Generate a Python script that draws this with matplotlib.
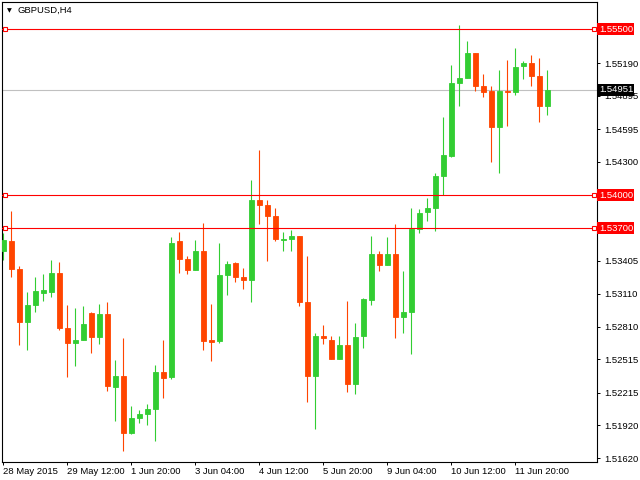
import matplotlib
matplotlib.use('Agg')
import matplotlib.pyplot as plt
import matplotlib.transforms as mtransforms

# GBPUSD H4 candles (open, high, low, close)
opens = [1.53491, 1.53587, 1.53334, 1.52849, 1.53003, 1.53118, 1.53127, 1.53298, 1.52801, 1.52660,
         1.52693, 1.52937, 1.52714, 1.52928, 1.52262, 1.52368, 1.51846, 1.51982, 1.52018, 1.52063,
         1.52404, 1.52352, 1.53587, 1.53425, 1.53319, 1.53497, 1.52687, 1.52678, 1.53280, 1.53389,
         1.53262, 1.53229, 1.53958, 1.53913, 1.53813, 1.53593, 1.53599, 1.53633, 1.53036, 1.52362,
         1.52729, 1.52693, 1.52515, 1.52648, 1.52289, 1.52723, 1.53048, 1.53470, 1.53365, 1.53470,
         1.52895, 1.52940, 1.53690, 1.53843, 1.53880, 1.54169, 1.54355, 1.55009, 1.55054, 1.55286,
         1.54988, 1.54943, 1.54611, 1.54943, 1.54928, 1.55163, 1.55196, 1.55078, 1.54801]
highs = [1.53657, 1.53852, 1.53355, 1.53127, 1.53262, 1.53289, 1.53416, 1.53398, 1.53009, 1.52982,
         1.53000, 1.52946, 1.53018, 1.53036, 1.52506, 1.52711, 1.52090, 1.52060, 1.52115, 1.52461,
         1.52687, 1.53624, 1.53669, 1.53452, 1.53596, 1.53750, 1.53018, 1.53569, 1.53407, 1.53398,
         1.53343, 1.54139, 1.54410, 1.53958, 1.53886, 1.53669, 1.53687, 1.53633, 1.53446, 1.52750,
         1.52828, 1.52729, 1.52729, 1.53045, 1.52840, 1.53072, 1.53633, 1.53497, 1.53624, 1.53741,
         1.53316, 1.53886, 1.53877, 1.53976, 1.54196, 1.54708, 1.55178, 1.55539, 1.55395, 1.55286,
         1.55096, 1.54982, 1.55127, 1.55223, 1.55331, 1.55214, 1.55268, 1.55241, 1.55133]
lows = [1.53410, 1.53256, 1.52642, 1.52596, 1.52940, 1.53045, 1.53075, 1.52777, 1.52352, 1.52452,
        1.52687, 1.52569, 1.52651, 1.52226, 1.51955, 1.51684, 1.51837, 1.51937, 1.51919, 1.51774,
        1.52163, 1.52334, 1.53292, 1.53283, 1.53319, 1.52596, 1.52497, 1.52660, 1.53093, 1.53211,
        1.53148, 1.53030, 1.53735, 1.53401, 1.53581, 1.53491, 1.53491, 1.52994, 1.52127, 1.51883,
        1.52651, 1.52515, 1.52515, 1.52217, 1.52199, 1.52615, 1.53003, 1.53310, 1.53365, 1.52705,
        1.52750, 1.52560, 1.53654, 1.53762, 1.53672, 1.54003, 1.54346, 1.54801, 1.55054, 1.54937,
        1.54883, 1.54295, 1.54196, 1.54621, 1.54901, 1.55045, 1.54982, 1.54657, 1.54720]
closes = [1.53590, 1.53331, 1.52849, 1.53009, 1.53136, 1.53145, 1.53298, 1.52795, 1.52660, 1.52693,
          1.52837, 1.52714, 1.52928, 1.52271, 1.52368, 1.51846, 1.51988, 1.52024, 1.52069, 1.52404,
          1.52343, 1.53569, 1.53419, 1.53319, 1.53497, 1.52678, 1.52675, 1.53280, 1.53380, 1.53256,
          1.53229, 1.53958, 1.53907, 1.53807, 1.53599, 1.53605, 1.53633, 1.53030, 1.52362, 1.52729,
          1.52705, 1.52515, 1.52648, 1.52289, 1.52720, 1.53063, 1.53470, 1.53365, 1.53470, 1.52895,
          1.52946, 1.53690, 1.53840, 1.53886, 1.54175, 1.54365, 1.55015, 1.55060, 1.55286, 1.54982,
          1.54928, 1.54611, 1.54943, 1.54928, 1.55160, 1.55196, 1.55072, 1.54801, 1.54951]

time_labels = ['28 May 2015', '29 May 12:00', '1 Jun 20:00', '3 Jun 04:00', '4 Jun 12:00',
               '5 Jun 20:00', '9 Jun 04:00', '10 Jun 12:00', '11 Jun 20:00']
price_ticks = [1.51620, 1.51920, 1.52215, 1.52515, 1.52810, 1.53110, 1.53405,
               1.53700, 1.54000, 1.54300, 1.54595, 1.54895, 1.55190, 1.55500]
levels = [1.55500, 1.54000, 1.53700]
bid = 1.54951

bull = '#32CD32'
bear = '#FF4500'
font = 'Liberation Sans'

fig = plt.figure(figsize=(6.4, 4.8), dpi=100)
ax = fig.add_axes([2 / 640, 18 / 480, 595 / 640, 460 / 480])

for i in range(len(opens)):
    o, h, l, c = opens[i], highs[i], lows[i], closes[i]
    col = bull if c >= o else bear
    ax.vlines(i, l, h, color=col, lw=0.8, zorder=2)
    ax.bar(i, abs(c - o), bottom=min(o, c), width=0.58, color=col,
           edgecolor=col, linewidth=0.6, zorder=3)

ax.set_xlim(-0.1625, 74.2125)
ax.set_ylim(1.515875, 1.55744)

# level lines with small square handles
blend = mtransforms.blended_transform_factory(ax.transAxes, ax.transData)
for lv in levels:
    ax.axhline(lv, color='red', lw=0.8, zorder=4)
    ax.plot([0.0055, 0.9955], [lv, lv], 's', ms=3.2, mfc='white', mec='red',
            mew=0.8, transform=blend, zorder=5, clip_on=False)
ax.axhline(bid, color='#C0C0C0', lw=0.8, zorder=1)

# axes look
for sp in ax.spines.values():
    sp.set_color('black')
    sp.set_linewidth(0.8)
ax.yaxis.tick_right()
ax.set_yticks(price_ticks)
ax.set_yticklabels(['' if p in levels else '%.5f' % p for p in price_ticks],
                   fontfamily=font, fontsize=6.8)
ax.tick_params(axis='y', length=2.5, width=0.7, pad=3)
ax.set_xticks(range(0, 65, 8))
ax.set_xticklabels(time_labels, fontfamily=font, fontsize=6.8)
ax.tick_params(axis='x', length=2.5, width=0.7, pad=1)
for lab in ax.get_xticklabels():
    lab.set_ha('left')

# price boxes on the right scale
for lv in levels:
    ax.text(1.003, lv, '%.5f' % lv, transform=blend, ha='left', va='center',
            color='white', fontfamily=font, fontsize=6.8, zorder=10, clip_on=False,
            bbox=dict(boxstyle='square,pad=0.15', fc='#FF0000', ec='none'))
ax.text(1.003, bid, '%.5f' % bid, transform=blend, ha='left', va='center',
        color='white', fontfamily=font, fontsize=6.8, zorder=10, clip_on=False,
        bbox=dict(boxstyle='square,pad=0.15', fc='black', ec='none'))

# title
fig.text(7 / 640, 1 - 10.5 / 480, '\u25bc', fontsize=4.5, va='center', ha='left')
fig.text(18 / 640, 1 - 10.5 / 480, 'GBPUSD,H4', fontfamily=font, fontsize=6.8,
         va='center', ha='left')

fig.savefig('out.png', dpi=100, facecolor='white')
